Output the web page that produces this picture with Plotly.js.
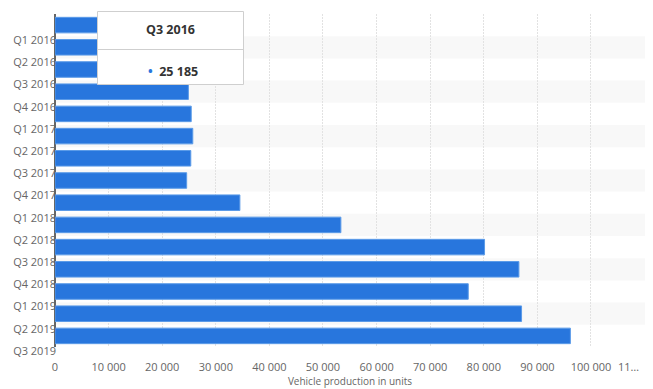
<!DOCTYPE html>
<html>
<head>
<meta charset="utf-8">
<script src="https://cdn.plot.ly/plotly-3.0.1.min.js"></script>
<style>html,body{margin:0;padding:0;background:#fff;}#chart{width:653px;height:389px;}</style>
</head>
<body>
<div id="chart"></div>
<script>
var quarters = ["Q1 2016","Q2 2016","Q3 2016","Q4 2016","Q1 2017","Q2 2017","Q3 2017","Q4 2017","Q1 2018","Q2 2018","Q3 2018","Q4 2018","Q1 2019","Q2 2019","Q3 2019"];
var production = [14820,18345,25185,24882,25418,25708,25336,24565,34494,53339,80142,86555,77100,87048,96155];
var xTickVals = [0,10000,20000,30000,40000,50000,60000,70000,80000,90000,100000,110000];
var xTickText = ["0","10 000","20 000","30 000","40 000","50 000","60 000","70 000","80 000","90 000","100 000","11…"];
var hoverIndex = 2;

function fmt(v){ return String(v).replace(/\B(?=(\d{3})+(?!\d))/g, " "); }

var W = 653, H = 389, L = 55, R = 8, T = 14, B = 42;
function px(x){ return (x - L) / (W - L - R); }
function py(y){ return (H - B - y) / (H - B - T); }

var idx = quarters.map(function(q,i){ return i; });
var last = xTickVals.length - 1;
var shownTickText = xTickText.map(function(t,i){ return i === last ? "" : t; });

var shapes = [];
idx.forEach(function(i){
  if (i % 2 === 1) {
    shapes.push({type:"rect", xref:"paper", yref:"y", x0:0, x1:1, y0:i-0.5, y1:i+0.5,
      fillcolor:"#f8f8f8", line:{width:0}, layer:"below"});
  }
});
// tooltip box
shapes.push({type:"rect", xref:"paper", yref:"paper", x0:px(97.5), x1:px(243.5), y0:py(84.5), y1:py(11.5),
  fillcolor:"#ffffff", line:{color:"#cfcfcf", width:1}, layer:"above"});
shapes.push({type:"line", xref:"paper", yref:"paper", x0:px(97.5), x1:px(243.5), y0:py(49.5), y1:py(49.5),
  line:{color:"#cfcfcf", width:1}, layer:"above"});

var annotations = [
  {xref:"paper", yref:"paper", x:px(170), y:py(29.5), text:"<b>"+quarters[hoverIndex]+"</b>", showarrow:false,
   font:{family:"Open Sans", size:12.5, color:"#333"}, xanchor:"center", yanchor:"middle"},
  {xref:"paper", yref:"paper", x:px(172.5), y:py(71), text:"<b><span style='color:#2876dd'>•</span>  "+fmt(production[hoverIndex])+"</b>", showarrow:false,
   font:{family:"Open Sans", size:12.5, color:"#333"}, xanchor:"center", yanchor:"middle"},
  {xref:"x", yref:"paper", x:xTickVals[last], y:py(366), xshift:-4, text:xTickText[last], showarrow:false,
   font:{family:"Open Sans", size:11, color:"#666"}, xanchor:"right", yanchor:"middle"}
];

var trace = {
  type:"bar", orientation:"h",
  x: production, y: idx,
  marker:{color:"#2876dd", line:{color:"#5b9be8", width:1}},
  hoverinfo:"none"
};

var layout = {
  width:W, height:H,
  margin:{l:L, r:R, t:T, b:B, pad:0},
  paper_bgcolor:"#fff", plot_bgcolor:"rgba(0,0,0,0)",
  bargap:0.3,
  showlegend:false,
  font:{family:"Open Sans", color:"#666"},
  xaxis:{range:[0,110080], tickvals:xTickVals, ticktext:shownTickText,
    showgrid:true, gridcolor:"#e2e2e2", griddash:"2px,1px", gridwidth:1,
    zeroline:true, zerolinecolor:"#666", zerolinewidth:1.5,
    ticks:"", tickfont:{size:11, color:"#666"}, ticklabelstandoff:12,
    title:{text:"Vehicle production in units", font:{size:10, color:"#666"}, standoff:0},
    fixedrange:true},
  yaxis:{range:[14.5,-0.5], tickvals:idx.map(function(i){return i+0.5;}), ticktext:quarters,
    showgrid:false, zeroline:false, ticks:"", tickfont:{size:11, color:"#666"},
    ticklabelshift:-4, ticklabelstandoff:-2, fixedrange:true},
  shapes:shapes,
  annotations:annotations
};

Plotly.newPlot("chart", [trace], layout, {staticPlot:true, displayModeBar:false});
</script>
</body>
</html>
